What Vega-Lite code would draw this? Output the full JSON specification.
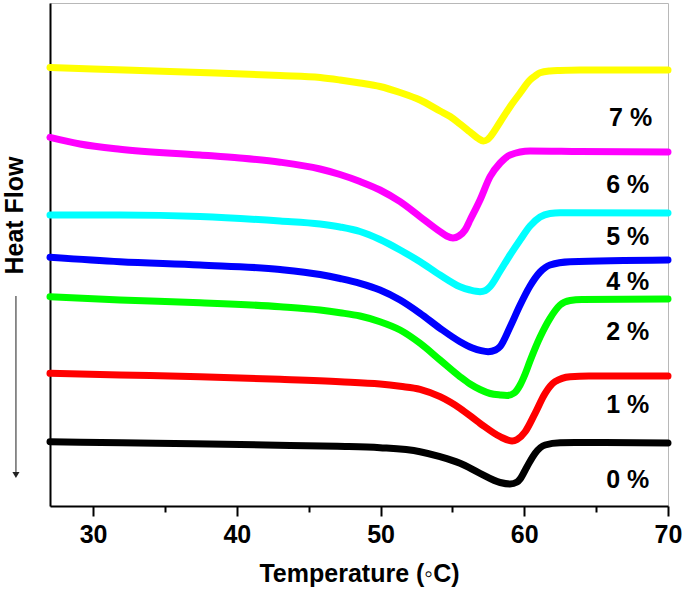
{
  "$schema": "https://vega.github.io/schema/vega-lite/v6.json",
  "width": 618,
  "height": 503,
  "autosize": {"type": "none"},
  "padding": {"left": 50, "top": 3, "right": 17, "bottom": 87},
  "background": "white",
  "config": {
    "view": {"stroke": "#b8b8b8", "strokeWidth": 1},
    "font": "Liberation Sans"
  },
  "datasets": {
    "curves": [
      {"s": "7 %", "T": 27, "v": 438.5}, {"s": "7 %", "T": 30, "v": 437}, {"s": "7 %", "T": 33.26, "v": 435.5}, {"s": "7 %", "T": 37.44, "v": 433.5}, {"s": "7 %", "T": 43.01, "v": 430.5}, {"s": "7 %", "T": 45.8, "v": 428.5}, {"s": "7 %", "T": 47.18, "v": 426}, {"s": "7 %", "T": 48.57, "v": 423}, {"s": "7 %", "T": 49.96, "v": 419.5}, {"s": "7 %", "T": 51.36, "v": 413.5}, {"s": "7 %", "T": 52.75, "v": 406}, {"s": "7 %", "T": 54.14, "v": 395}, {"s": "7 %", "T": 54.84, "v": 389.5}, {"s": "7 %", "T": 55.53, "v": 382}, {"s": "7 %", "T": 56.23, "v": 374}, {"s": "7 %", "T": 56.8, "v": 367.5}, {"s": "7 %", "T": 57.15, "v": 365}, {"s": "7 %", "T": 57.45, "v": 366.5}, {"s": "7 %", "T": 57.62, "v": 369}, {"s": "7 %", "T": 58.32, "v": 384}, {"s": "7 %", "T": 59.01, "v": 399.3}, {"s": "7 %", "T": 59.71, "v": 413}, {"s": "7 %", "T": 60.4, "v": 426}, {"s": "7 %", "T": 60.75, "v": 430}, {"s": "7 %", "T": 61.1, "v": 433.3}, {"s": "7 %", "T": 61.79, "v": 435}, {"s": "7 %", "T": 62.49, "v": 435.5}, {"s": "7 %", "T": 63.88, "v": 436}, {"s": "7 %", "T": 70, "v": 436},

      {"s": "6 %", "T": 27, "v": 368.7}, {"s": "6 %", "T": 29.09, "v": 362}, {"s": "6 %", "T": 31.87, "v": 356.7}, {"s": "6 %", "T": 37.44, "v": 351}, {"s": "6 %", "T": 40.2, "v": 348}, {"s": "6 %", "T": 43.01, "v": 343.8}, {"s": "6 %", "T": 45.79, "v": 337}, {"s": "6 %", "T": 47.18, "v": 331.5}, {"s": "6 %", "T": 48.57, "v": 324.5}, {"s": "6 %", "T": 49.96, "v": 316}, {"s": "6 %", "T": 51.36, "v": 304.3}, {"s": "6 %", "T": 52.75, "v": 289.3}, {"s": "6 %", "T": 54.14, "v": 274.3}, {"s": "6 %", "T": 54.6, "v": 270}, {"s": "6 %", "T": 55.04, "v": 268}, {"s": "6 %", "T": 55.45, "v": 270}, {"s": "6 %", "T": 55.88, "v": 276}, {"s": "6 %", "T": 56.23, "v": 286}, {"s": "6 %", "T": 56.92, "v": 306}, {"s": "6 %", "T": 57.62, "v": 329.3}, {"s": "6 %", "T": 58.32, "v": 343}, {"s": "6 %", "T": 59.01, "v": 351}, {"s": "6 %", "T": 60.4, "v": 355}, {"s": "6 %", "T": 63.88, "v": 354.5}, {"s": "6 %", "T": 70, "v": 354},

      {"s": "5 %", "T": 27, "v": 291}, {"s": "5 %", "T": 31.87, "v": 291}, {"s": "5 %", "T": 37.44, "v": 289.5}, {"s": "5 %", "T": 43.01, "v": 285}, {"s": "5 %", "T": 45.79, "v": 282}, {"s": "5 %", "T": 47.18, "v": 279}, {"s": "5 %", "T": 48.57, "v": 274.5}, {"s": "5 %", "T": 49.96, "v": 266.5}, {"s": "5 %", "T": 51.36, "v": 256}, {"s": "5 %", "T": 52.75, "v": 244.3}, {"s": "5 %", "T": 54.14, "v": 231}, {"s": "5 %", "T": 55.53, "v": 219.3}, {"s": "5 %", "T": 56.23, "v": 216}, {"s": "5 %", "T": 56.92, "v": 214.3}, {"s": "5 %", "T": 57.3, "v": 215.5}, {"s": "5 %", "T": 57.62, "v": 219.3}, {"s": "5 %", "T": 58.32, "v": 235}, {"s": "5 %", "T": 59.01, "v": 251}, {"s": "5 %", "T": 59.71, "v": 266}, {"s": "5 %", "T": 60.4, "v": 280}, {"s": "5 %", "T": 61.1, "v": 289}, {"s": "5 %", "T": 61.79, "v": 292.5}, {"s": "5 %", "T": 62.49, "v": 293.3}, {"s": "5 %", "T": 70, "v": 293},

      {"s": "4 %", "T": 27, "v": 248.7}, {"s": "4 %", "T": 31.87, "v": 244.3}, {"s": "4 %", "T": 37.44, "v": 241}, {"s": "4 %", "T": 43.01, "v": 236.5}, {"s": "4 %", "T": 45.79, "v": 231.5}, {"s": "4 %", "T": 47.18, "v": 227.5}, {"s": "4 %", "T": 48.57, "v": 222.7}, {"s": "4 %", "T": 49.96, "v": 216}, {"s": "4 %", "T": 51.36, "v": 206}, {"s": "4 %", "T": 52.75, "v": 192.7}, {"s": "4 %", "T": 54.14, "v": 177.7}, {"s": "4 %", "T": 55.53, "v": 164.3}, {"s": "4 %", "T": 56.4, "v": 158}, {"s": "4 %", "T": 57.0, "v": 155.3}, {"s": "4 %", "T": 57.48, "v": 154.3}, {"s": "4 %", "T": 58.0, "v": 156}, {"s": "4 %", "T": 58.32, "v": 159.5}, {"s": "4 %", "T": 59.01, "v": 179}, {"s": "4 %", "T": 59.71, "v": 201}, {"s": "4 %", "T": 60.4, "v": 220}, {"s": "4 %", "T": 61.1, "v": 234}, {"s": "4 %", "T": 61.79, "v": 241}, {"s": "4 %", "T": 63.19, "v": 244.3}, {"s": "4 %", "T": 70, "v": 246},

      {"s": "2 %", "T": 27, "v": 209.3}, {"s": "2 %", "T": 31.87, "v": 206}, {"s": "2 %", "T": 37.44, "v": 203.3}, {"s": "2 %", "T": 43.01, "v": 199.3}, {"s": "2 %", "T": 45.79, "v": 196}, {"s": "2 %", "T": 47.18, "v": 193.3}, {"s": "2 %", "T": 48.57, "v": 190}, {"s": "2 %", "T": 49.96, "v": 184.3}, {"s": "2 %", "T": 51.36, "v": 176}, {"s": "2 %", "T": 52.75, "v": 162.7}, {"s": "2 %", "T": 54.14, "v": 146}, {"s": "2 %", "T": 55.53, "v": 129.3}, {"s": "2 %", "T": 56.23, "v": 122}, {"s": "2 %", "T": 56.92, "v": 116.5}, {"s": "2 %", "T": 57.62, "v": 112.5}, {"s": "2 %", "T": 58.32, "v": 111}, {"s": "2 %", "T": 58.8, "v": 110.5}, {"s": "2 %", "T": 59.3, "v": 113}, {"s": "2 %", "T": 59.71, "v": 121}, {"s": "2 %", "T": 60.06, "v": 132}, {"s": "2 %", "T": 60.4, "v": 145}, {"s": "2 %", "T": 61.1, "v": 169}, {"s": "2 %", "T": 61.79, "v": 187.7}, {"s": "2 %", "T": 62.49, "v": 201}, {"s": "2 %", "T": 63.19, "v": 205.5}, {"s": "2 %", "T": 64, "v": 206.5}, {"s": "2 %", "T": 70, "v": 207},

      {"s": "1 %", "T": 27, "v": 132.7}, {"s": "1 %", "T": 31.87, "v": 131}, {"s": "1 %", "T": 37.44, "v": 129.3}, {"s": "1 %", "T": 43.01, "v": 126.7}, {"s": "1 %", "T": 47.18, "v": 124.3}, {"s": "1 %", "T": 49.96, "v": 122}, {"s": "1 %", "T": 51.36, "v": 119.7}, {"s": "1 %", "T": 52.75, "v": 116.7}, {"s": "1 %", "T": 54.14, "v": 109.3}, {"s": "1 %", "T": 55.53, "v": 97.7}, {"s": "1 %", "T": 56.92, "v": 82.7}, {"s": "1 %", "T": 58.32, "v": 69.3}, {"s": "1 %", "T": 59.15, "v": 65}, {"s": "1 %", "T": 59.5, "v": 66.5}, {"s": "1 %", "T": 60.06, "v": 74.3}, {"s": "1 %", "T": 60.75, "v": 92.7}, {"s": "1 %", "T": 61.45, "v": 112.7}, {"s": "1 %", "T": 62.14, "v": 124.3}, {"s": "1 %", "T": 63.19, "v": 129.3}, {"s": "1 %", "T": 64.5, "v": 130}, {"s": "1 %", "T": 70, "v": 130},

      {"s": "0 %", "T": 27, "v": 64.3}, {"s": "0 %", "T": 32, "v": 63.2}, {"s": "0 %", "T": 37, "v": 62.2}, {"s": "0 %", "T": 42, "v": 61}, {"s": "0 %", "T": 47, "v": 59.7}, {"s": "0 %", "T": 49.96, "v": 58.3}, {"s": "0 %", "T": 52.75, "v": 54.3}, {"s": "0 %", "T": 54.14, "v": 49.3}, {"s": "0 %", "T": 55.53, "v": 42.7}, {"s": "0 %", "T": 56.92, "v": 32.7}, {"s": "0 %", "T": 58.32, "v": 23.5}, {"s": "0 %", "T": 59.01, "v": 22}, {"s": "0 %", "T": 59.5, "v": 24}, {"s": "0 %", "T": 59.71, "v": 27}, {"s": "0 %", "T": 60.19, "v": 39.3}, {"s": "0 %", "T": 60.75, "v": 52.7}, {"s": "0 %", "T": 61.45, "v": 61}, {"s": "0 %", "T": 62.49, "v": 63.3}, {"s": "0 %", "T": 64, "v": 63.5}, {"s": "0 %", "T": 70, "v": 63}
    ],
    "labels": [
      {"s": "7 %", "T": 67.4, "v": 388},
      {"s": "6 %", "T": 67.2, "v": 321},
      {"s": "5 %", "T": 67.2, "v": 269},
      {"s": "4 %", "T": 67.2, "v": 224},
      {"s": "2 %", "T": 67.2, "v": 174},
      {"s": "1 %", "T": 67.2, "v": 101},
      {"s": "0 %", "T": 67.2, "v": 26}
    ],
    "arrow": [
      {"T": 24.63, "v": 210, "v2": 31}
    ]
  },
  "layer": [
    {
      "data": {"name": "curves"},
      "mark": {"type": "line", "strokeWidth": 7, "interpolate": "monotone", "strokeCap": "round", "strokeJoin": "round"},
      "encoding": {
        "x": {
          "field": "T", "type": "quantitative",
          "scale": {"domain": [27, 70], "nice": false, "zero": false},
          "axis": {
            "values": [30, 35, 40, 45, 50, 55, 60, 65, 70],
            "labelExpr": "datum.value % 10 === 0 ? datum.label : ''",
            "title": "Temperature (◦C)",
            "titleFontSize": 25,
            "titleFontWeight": "bold",
            "titleFont": "Liberation Sans",
            "titleColor": "black",
            "titlePadding": 14,
            "labelFontSize": 25,
            "labelFontWeight": "bold",
            "labelFont": "Liberation Sans",
            "labelColor": "black",
            "labelPadding": 6,
            "labelFlush": false,
            "labelOverlap": false,
            "grid": false,
            "domainColor": "black",
            "domainWidth": 2,
            "tickColor": "black",
            "tickWidth": 2,
            "tickSize": {"condition": {"test": "datum.value % 10 !== 0", "value": 6}, "value": 10}
          }
        },
        "y": {
          "field": "v", "type": "quantitative",
          "scale": {"domain": [0, 503], "nice": false, "zero": false},
          "axis": {
            "title": "Heat Flow",
            "titleFontSize": 25,
            "titleFontWeight": "bold",
            "titleFont": "Liberation Sans",
            "titleColor": "black",
            "titleAngle": 270,
            "titleX": -36,
            "titleY": 212,
            "titleAlign": "center",
            "titleBaseline": "middle",
            "labels": false,
            "ticks": false,
            "grid": false,
            "domainColor": "black",
            "domainWidth": 2
          }
        },
        "color": {
          "field": "s", "type": "nominal",
          "scale": {
            "domain": ["7 %", "6 %", "5 %", "4 %", "2 %", "1 %", "0 %"],
            "range": ["#FFFF00", "#FF00FF", "#00FFFF", "#0000FF", "#00FF00", "#FF0000", "#000000"]
          },
          "legend": null
        }
      }
    },
    {
      "data": {"name": "labels"},
      "mark": {"type": "text", "fontSize": 25, "fontWeight": "bold", "font": "Liberation Sans", "color": "black", "align": "center", "baseline": "middle"},
      "encoding": {
        "x": {"field": "T", "type": "quantitative"},
        "y": {"field": "v", "type": "quantitative"},
        "text": {"field": "s"}
      }
    },
    {
      "data": {"name": "arrow"},
      "mark": {"type": "rule", "color": "#444", "strokeWidth": 1.2, "clip": false},
      "encoding": {
        "x": {"field": "T", "type": "quantitative"},
        "y": {"field": "v", "type": "quantitative"},
        "y2": {"field": "v2"}
      }
    },
    {
      "data": {"name": "arrow"},
      "mark": {"type": "point", "shape": "triangle-down", "filled": true, "color": "#222", "size": 50, "opacity": 1, "clip": false},
      "encoding": {
        "x": {"field": "T", "type": "quantitative"},
        "y": {"field": "v2", "type": "quantitative"}
      }
    }
  ]
}
